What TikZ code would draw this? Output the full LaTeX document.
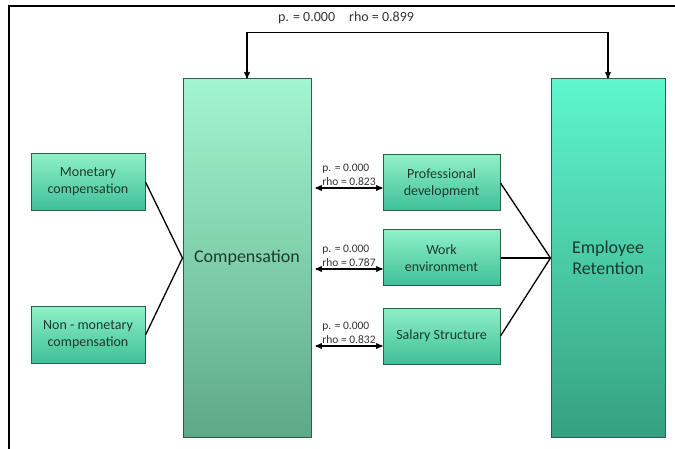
\documentclass[tikz,border=0pt]{standalone}
\usepackage{fontspec}
\setmainfont{Carlito}
\usepackage{tikz}
\usetikzlibrary{arrows,calc,positioning,shapes}
\definecolor{mintlight}{HTML}{A2F6CF}
\definecolor{mintdark}{HTML}{5EA986}
\definecolor{aqualight}{HTML}{5EF7CE}
\definecolor{aquadark}{HTML}{36A07F}
\definecolor{boxlight}{HTML}{8FF0C6}
\definecolor{boxdark}{HTML}{3EBF98}
\definecolor{edgegreen}{HTML}{2F5E4B}
\definecolor{textgreen}{HTML}{1C3A2D}
\definecolor{labelgray}{HTML}{333333}

\begin{document}
\begin{tikzpicture}[x=1pt,y=-1pt,<->,>=stealth',line width=1.3pt]
\tikzstyle{bigbox}=[rectangle,draw=edgegreen,line width=1pt,text=textgreen,
  align=center,inner sep=0pt,font=\fontsize{18}{21}\selectfont]
\tikzstyle{smallbox}=[rectangle,draw=edgegreen,line width=1pt,text=textgreen,
  align=center,inner sep=0pt,minimum height=57pt,top color=boxlight,bottom color=boxdark,
  font=\fontsize{14}{17}\selectfont]
\tikzstyle{stat}=[text=labelgray,align=left,inner sep=1pt,font=\fontsize{11.5}{14}\selectfont]

\useasboundingbox (0,0) rectangle (675,449);
\draw[-,line width=1.5pt] (9,449) -- (9,6) -- (675,6);

\node[bigbox,minimum width=128pt,minimum height=358pt,top color=mintlight,bottom color=mintdark]
  (comp) at (247,258) {Compensation};
\node[bigbox,minimum width=114pt,minimum height=358pt,top color=aqualight,bottom color=aquadark]
  (ret) at (608,258) {Employee\\Retention};

\node[smallbox,minimum width=114pt] (mon)    at (88,182)  {Monetary\\compensation};
\node[smallbox,minimum width=114pt] (nonmon) at (88,335)  {Non - monetary\\compensation};

\node[smallbox,minimum width=117pt,minimum height=56pt] (prof) at (441.5,183) {Professional\\development};
\node[smallbox,minimum width=117pt,minimum height=56pt] (work) at (441.5,258) {Work\\environment};
\node[smallbox,minimum width=117pt,minimum height=56pt] (sal)  at (441.5,336) {Salary Structure};

\draw[-] (mon.east) -- (comp.west);
\draw[-] (nonmon.east) -- (comp.west);
\draw[-] (prof.east) -- (ret.west);
\draw[-] (work.east) -- (ret.west);
\draw[-] (sal.east) -- (ret.west);

\draw ([xshift=4pt,yshift=-5pt]comp.east |- prof.west) -- ([yshift=-5pt]prof.west)
  node[stat,midway,above=1pt] {p. = 0.000\\rho = 0.823};
\draw ([xshift=4pt,yshift=-11pt]comp.east |- work.west) -- ([yshift=-11pt]work.west)
  node[stat,midway,above=1pt] {p. = 0.000\\rho = 0.787};
\draw ([xshift=4pt,yshift=-10pt]comp.east |- sal.west) -- ([yshift=-10pt]sal.west)
  node[stat,midway,above=1pt] {p. = 0.000\\rho = 0.832};

\draw (comp.north) -- ++(0,-46) -| (ret.north);
\node[text=labelgray,font=\fontsize{14}{17}\selectfont] (toplab) at (346,18)
  {p. = 0.000\quad rho = 0.899};

\end{tikzpicture}
\end{document}
